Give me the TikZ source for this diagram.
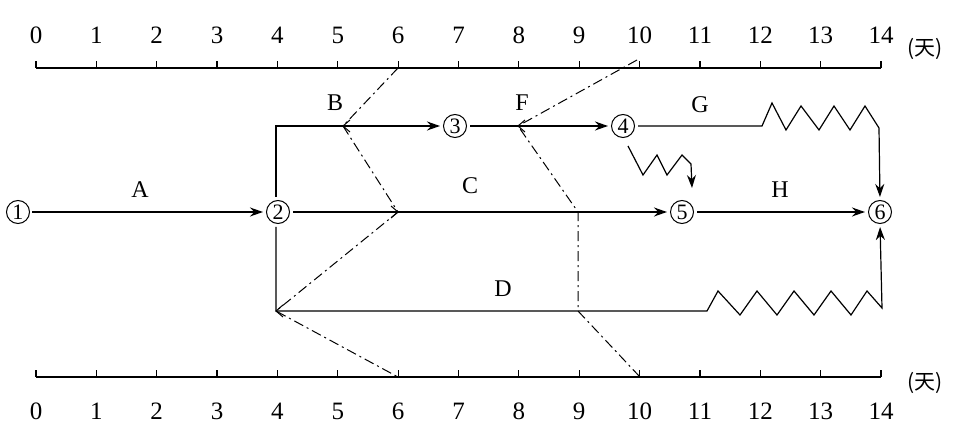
\documentclass[tikz,border=0pt]{standalone}
\usepackage{fontspec}
\setmainfont{Liberation Serif}
\newfontfamily\cjk{Noto Sans CJK SC}
\usetikzlibrary{arrows.meta}
\begin{document}
\begin{tikzpicture}[x=1pt,y=-1pt,line width=1.5pt,
  ev/.style={circle,draw,line width=1pt,inner sep=0pt,minimum size=23pt,font=\fontsize{22}{22}\selectfont},
  lab/.style={font=\fontsize{24}{24}\selectfont},
  num/.style={font=\fontsize{25}{25}\selectfont},
  arr/.style={-{Stealth[length=13pt,width=9pt]},shorten >=3pt},
  fl/.style={line width=1pt,dash pattern=on 10pt off 4pt on 2pt off 4pt},
  chev/.style={line width=1pt}]
\useasboundingbox (0,0) rectangle (974,438);
% axes
\draw[line width=1.2pt] (36,68) -- (881,68);
\draw[line width=1.2pt] (36,377) -- (881,377);
\foreach \d in {0,...,14}{
  \pgfmathsetmacro\xx{36+60.36*\d}
  \draw[line width=1.2pt] (\xx,68) -- (\xx,61);
  \draw[line width=1.2pt] (\xx,377) -- (\xx,370);
  \node[num] (t\d) at (\xx,35) {\d};
  \node[num] (b\d) at (\xx,411) {\d};
}
\node[font=\cjk\fontsize{21}{21}\selectfont] (tu) at (925,49) {(天)};
\node[font=\cjk\fontsize{21}{21}\selectfont] (tb) at (925,383) {(天)};
% events
\node[ev] (n1) at (18,212) {1};
\node[ev] (n2) at (278,212) {2};
\node[ev] (n3) at (455,126) {3};
\node[ev] (n4) at (623,126) {4};
\node[ev] (n5) at (682,212) {5};
\node[ev] (n6) at (880,212) {6};
% activities
\draw[arr,shorten <=2pt] (n1) -- (n2);
\node[lab] (lA) at (140,190) {A};
\draw[arr] ([yshift=3pt]n2.north -| 276,0) -- (276,126) -- (n3);
\node[lab] (lB) at (335,103) {B};
\draw[arr,shorten <=3pt] (n3) -- (n4);
\node[lab] (lF) at (522,103) {F};
\draw[arr,shorten <=3pt] (n2) -- (n5);
\node[lab] (lC) at (470,186) {C};
\draw[arr,shorten <=3pt] (n5) -- (n6);
\node[lab] (lH) at (780,190) {H};
\node[lab] (lG) at (700,105) {G};
\node[lab] (lD) at (503,289) {D};
\draw[arr,line width=1.2pt,shorten <=3pt] (n4.east) -- (762,126) -- (772,103) -- (786,130) -- (801,106) -- (819,130) -- (834,106) -- (850,130) -- (865,106) -- (879,128) -- (n6.north);
\draw[arr,line width=1.2pt,shorten >=0pt] (628,146) -- (643,175) -- (657,155) -- (667,175) -- (682,155) -- (691,164) -- (692,188);
\draw[arr,line width=1.2pt] ([yshift=-3pt]n2.south -| 276,0) -- (276,311) -- (707,311) -- (718,291) -- (740,315) -- (757,291) -- (777,315) -- (794,291) -- (814,315) -- (831,291) -- (851,315) -- (867,291) -- (882,308) -- (n6.south);
% front lines
\coordinate (p1) at (398,68);
\coordinate (p2) at (343,126);
\coordinate (p3) at (398,212);
\coordinate (p4) at (276,311);
\coordinate (p5) at (398,377);
\draw[fl] (p1) -- (p2) -- (p3) -- (p4) -- (p5);
\coordinate (q1) at (637,60);
\coordinate (q2) at (518,126);
\coordinate (q3) at (578,212);
\coordinate (q4) at (578,311);
\coordinate (q5) at (640,377);
\draw[fl] (q1) -- (q2) -- (q3) -- (q4) -- (q5);
\draw[chev] ([shift={(7,-6)}]p2) -- (p2) -- ([shift={(7,6)}]p2);
\draw[chev] ([shift={(7,-6)}]q2) -- (q2) -- ([shift={(7,6)}]q2);
\draw[chev] ([shift={(-7,-6)}]p3) -- (p3) -- ([shift={(-7,6)}]p3);
\draw[chev] ([shift={(7,-6)}]p4) -- (p4) -- ([shift={(7,6)}]p4);
\end{tikzpicture}
\end{document}
